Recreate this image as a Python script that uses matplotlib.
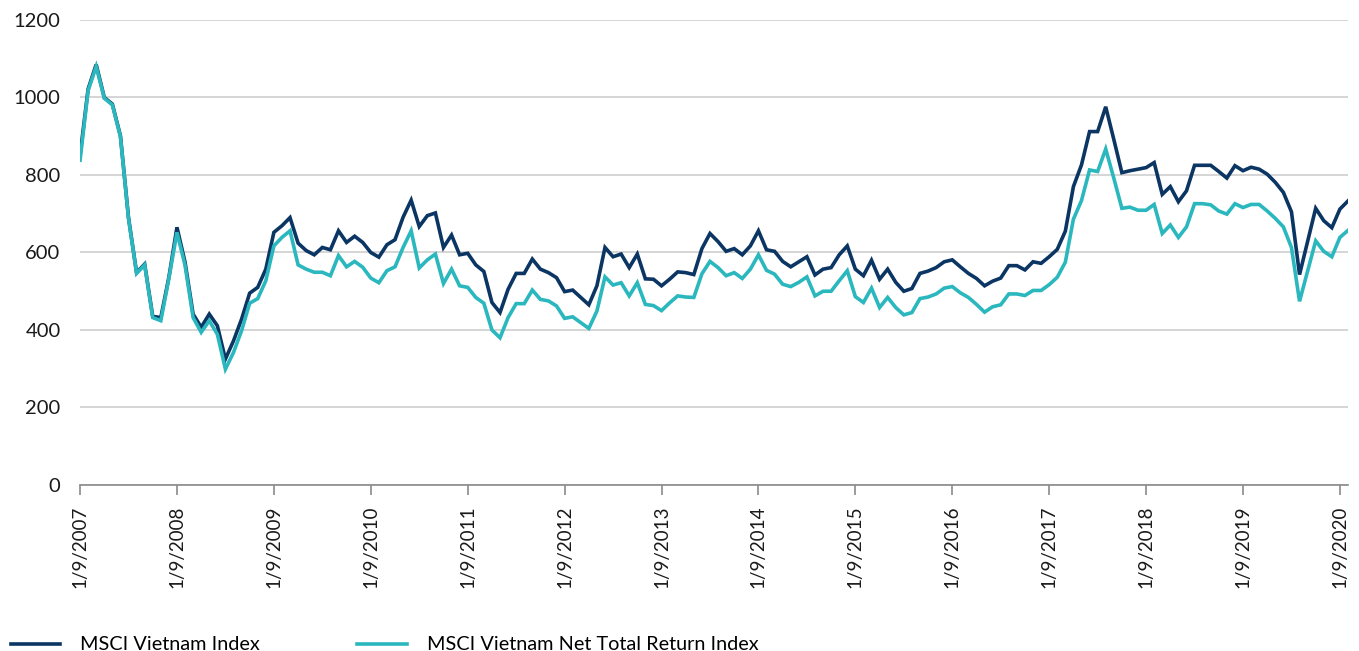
import numpy as np
import matplotlib
matplotlib.use("Agg")
import matplotlib.pyplot as plt

plt.rcParams['font.family'] = ['Lato', 'DejaVu Sans']

# monthly values, Sep 2007 .. Oct 2020
msci_vietnam = [
    850, 1022, 1085, 1000, 983, 901, 690, 548, 570, 435,
    432, 536, 665, 575, 441, 407, 441, 411, 325, 372,
    428, 495, 510, 557, 652, 669, 690, 624, 605, 594,
    613, 607, 656, 626, 642, 626, 600, 588, 620, 633,
    691, 735, 667, 695, 702, 613, 645, 594, 598, 568,
    551, 471, 445, 505, 546, 546, 583, 557, 548, 535,
    499, 503, 484, 465, 514, 613, 589, 596, 561, 596,
    532, 531, 514, 531, 550, 548, 543, 610, 649, 628,
    603, 610, 594, 617, 656, 607, 603, 577, 563, 576,
    589, 542, 557, 561, 594, 617, 557, 540, 580, 531,
    557, 523, 500, 507, 546, 552, 561, 576, 581, 563,
    546, 533, 514, 526, 534, 566, 566, 555, 576, 572,
    589, 608, 655, 770, 826, 912, 912, 976, 892, 806,
    811, 815, 819, 832, 750, 770, 731, 759, 825, 825,
    825, 809, 792, 824, 811, 820, 815, 802, 781, 755,
    705, 543, 628, 714, 682, 664, 712, 733,
]
msci_vietnam_ntr = [
    838, 1018, 1080, 998, 981, 899, 688, 546, 568, 432,
    424, 533, 652, 567, 432, 394, 424, 389, 299, 342,
    398, 469, 481, 527, 617, 639, 656, 568, 557, 549,
    549, 540, 592, 563, 577, 562, 534, 522, 553, 563,
    613, 656, 560, 581, 596, 520, 557, 514, 510, 484,
    469, 400, 380, 432, 468, 468, 503, 479, 475, 462,
    430, 434, 419, 404, 449, 537, 516, 522, 488, 522,
    466, 463, 450, 470, 488, 485, 484, 545, 577, 561,
    540, 548, 533, 557, 594, 554, 544, 518, 512, 523,
    537, 488, 500, 500, 527, 553, 486, 471, 508, 458,
    484, 458, 439, 445, 481, 485, 493, 508, 512, 496,
    484, 466, 446, 460, 465, 493, 493, 489, 502, 502,
    517, 536, 575, 686, 734, 813, 809, 867, 792, 714,
    717, 709, 709, 724, 649, 671, 639, 666, 726, 726,
    723, 707, 699, 726, 716, 724, 724, 707, 688, 666,
    613, 474, 552, 630, 603, 589, 639, 657,
]
tick_labels = ['1/9/%d' % y for y in range(2007, 2021)]
y_ticks = [0, 200, 400, 600, 800, 1000, 1200]

navy = '#0b3563'
teal = '#2ab7be'

x = np.arange(len(msci_vietnam))

fig = plt.figure(figsize=(13.59, 6.51), dpi=100)
ax = fig.add_axes([0.0589, 0.255, 0.933, 0.7143])

l1, = ax.plot(x, msci_vietnam, color=navy, lw=2.6, solid_joinstyle='miter', zorder=2,
              label='MSCI Vietnam Index')
l2, = ax.plot(x, msci_vietnam_ntr, color=teal, lw=2.6, solid_joinstyle='miter', zorder=3,
              label='MSCI Vietnam Net Total Return Index')

ax.set_xlim(0, len(x) - 1)
ax.set_ylim(0, 1200)
ax.set_yticks(y_ticks)
ax.set_yticklabels([str(v) for v in y_ticks])
ax.set_xticks(np.arange(0, len(x), 12))
ax.set_xticklabels(tick_labels, rotation=90)

ax.grid(axis='y', color='#d2d2d2', lw=1.3)
ax.set_axisbelow(True)
for s in ['top', 'right', 'left']:
    ax.spines[s].set_visible(False)
ax.spines['bottom'].set_color('#8a8a8a')
ax.spines['bottom'].set_linewidth(1.2)
ax.tick_params(axis='y', length=0, pad=14, labelsize=14.5, labelcolor='#1a1a1a')
ax.tick_params(axis='x', length=7, width=1.2, color='#8a8a8a', pad=8, labelsize=13.5,
               labelcolor='#1a1a1a')

fig.legend(handles=[l1, l2], loc='lower left', bbox_to_anchor=(0.002, -0.016), ncol=2,
           frameon=False, fontsize=14.3, handlelength=2.5, handletextpad=1.0,
           columnspacing=4.9, borderaxespad=0.0)

fig.savefig('out.png', dpi=100)
